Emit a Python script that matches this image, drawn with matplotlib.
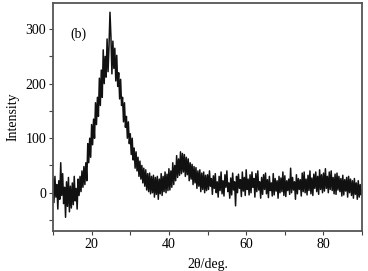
import numpy as np
import matplotlib
matplotlib.use("Agg")
import matplotlib.pyplot as plt
from matplotlib.ticker import MultipleLocator

# XRD pattern, 4 readings per degree (10.00, 10.25, ...)
theta_start = 10.0
theta_step = 0.25
intensity = [
    25, -18, 30, -8,      # 10
    15, -30, 22, -12,     # 11
    55, -5, 35, -20,      # 12
    10, -45, 20, -25,     # 13
    28, -35, 12, -28,     # 14
    18, -22, 30, -15,     # 15
    8, -30, 25, -5,       # 16
    30, 2, 40, 10,        # 17
    48, 15, 55, 22,       # 18
    90, 55, 100, 65,      # 19
    125, 88, 135, 100,    # 20
    165, 125, 175, 140,   # 21
    210, 160, 225, 175,   # 22
    262, 200, 250, 212,   # 23
    282, 222, 270, 331,   # 24
    285, 218, 278, 228,   # 25
    265, 205, 252, 195,   # 26
    220, 172, 208, 160,   # 27
    175, 130, 165, 120,   # 28
    140, 100, 130, 90,    # 29
    108, 70, 100, 60,     # 30
    82, 45, 75, 40,       # 31
    65, 30, 58, 25,       # 32
    50, 18, 45, 12,       # 33
    42, 5, 35, 2,         # 34
    36, -2, 30, 0,        # 35
    32, -8, 28, -3,       # 36
    30, -12, 25, -2,      # 37
    35, -5, 30, 2,        # 38
    38, 0, 34, 4,         # 39
    44, 5, 40, 10,        # 40
    55, 15, 50, 22,       # 41
    68, 28, 62, 32,       # 42
    75, 35, 72, 38,       # 43
    70, 30, 65, 33,       # 44
    62, 22, 55, 25,       # 45
    52, 15, 48, 18,       # 46
    46, 8, 40, 12,        # 47
    42, 2, 36, 6,         # 48
    38, 0, 32, 4,         # 49
    33, 6, 40, 12,        # 50
    26, -3, 31, 8,        # 51
    35, 0, 20, -8,        # 52
    30, 4, 38, -2,        # 53
    22, -6, 33, 10,       # 54
    40, 2, 18, -10,       # 55
    27, -4, 36, 5,        # 56
    20, -24, 30, 0,       # 57
    34, 8, 24, -7,        # 58
    38, 3, 28, -5,        # 59
    42, 6, 25, -4,        # 60
    33, 0, 38, 10,        # 61
    26, -8, 35, 2,        # 62
    40, 5, 20, -10,       # 63
    28, -3, 33, 6,        # 64
    36, -2, 24, -9,       # 65
    30, 4, 18, -6,        # 66
    35, -4, 26, 3,        # 67
    22, -10, 30, 0,       # 68
    27, 2, 38, -5,        # 69
    31, -7, 22, 4,        # 70
    25, -3, 45, 0,        # 71
    28, 5, 20, -12,       # 72
    33, -2, 26, 6,        # 73
    24, -6, 36, 2,        # 74
    38, 0, 25, -4,        # 75
    32, 4, 40, -2,        # 76
    27, -5, 34, 8,        # 77
    38, 2, 30, -3,        # 78
    42, 6, 33, 0,         # 79
    36, 3, 44, 8,         # 80
    30, 0, 38, 6,         # 81
    40, 4, 28, -2,        # 82
    34, -3, 36, 5,        # 83
    30, 2, 26, -6,        # 84
    32, -4, 24, 3,        # 85
    28, -8, 30, 0,        # 86
    25, -5, 22, -10,      # 87
    26, -3, 18, -12,      # 88
    22, -8, 15, -4,       # 89
    5,                    # 90
]
theta = theta_start + theta_step * np.arange(len(intensity))

plt.rcParams['font.family'] = ['Liberation Serif', 'DejaVu Serif']

fig = plt.figure(figsize=(3.68, 2.71), dpi=100)
ax = fig.add_axes([0.144, 0.148, 0.84, 0.841])

ax.plot(theta, intensity, color='#111111', lw=1.1)

ax.set_xlim(10, 90)
ax.set_ylim(-70, 348)
ax.xaxis.set_major_locator(MultipleLocator(20))
ax.xaxis.set_minor_locator(MultipleLocator(10))
ax.yaxis.set_major_locator(MultipleLocator(100))
ax.yaxis.set_minor_locator(MultipleLocator(50))
ax.tick_params(which='both', direction='out', length=3, width=0.8,
               color='#444444', labelsize=10, pad=2)

for s in ax.spines.values():
    s.set_color('#555555')
    s.set_linewidth(1.3)

ax.set_xlabel('2θ/deg.', fontsize=10, labelpad=5)
ax.set_ylabel('Intensity', fontsize=10, labelpad=4)
ax.text(16.7, 291, '(b)', fontsize=10, ha='center', va='center')

fig.savefig('out.png', dpi=100)
